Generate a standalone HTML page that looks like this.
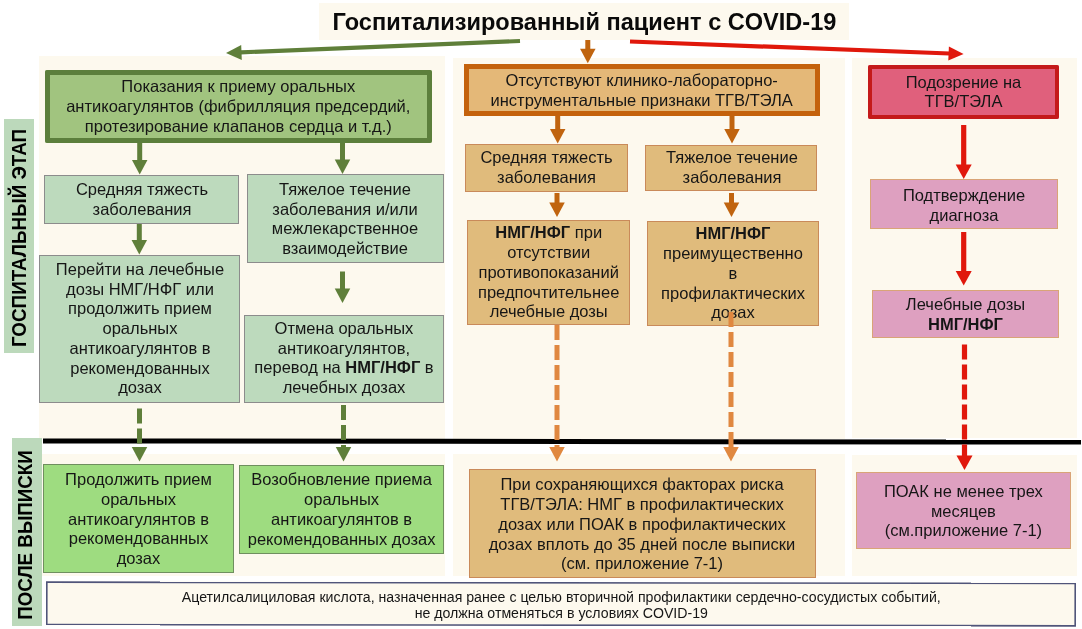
<!DOCTYPE html>
<html><head><meta charset="utf-8"><title>COVID-19</title>
<style>
html,body{margin:0;padding:0;background:#fff;overflow:hidden;}
body{width:1082px;height:629px;position:relative;overflow:hidden;font-family:"Liberation Sans", sans-serif;}
#w{position:absolute;left:0;top:0;width:1082px;height:629px;filter:blur(0.5px);}
.r{position:absolute;box-sizing:border-box;}
.t{position:absolute;text-align:center;white-space:nowrap;}
.v{position:absolute;width:0;height:0;font-weight:bold;color:#000;}
.v span{position:absolute;left:0;top:0;white-space:nowrap;transform:translate(-50%,-50%) rotate(-90deg);display:block;line-height:1;}
svg{position:absolute;left:0;top:0;}
</style></head><body><div id="w">
<div class="r" style="left:319px;top:2.5px;width:530px;height:37.5px;background:#fdf9ee;"></div>
<div class="r" style="left:39.2px;top:56px;width:406.1px;height:382.6px;background:#fdf9ee;"></div>
<div class="r" style="left:42px;top:453.6px;width:403px;height:122.19999999999993px;background:#fdf9ee;"></div>
<div class="r" style="left:453px;top:58px;width:392px;height:380.6px;background:#fdf9ee;"></div>
<div class="r" style="left:452.6px;top:454.2px;width:392.4px;height:122.09999999999997px;background:#fdf9ee;"></div>
<div class="r" style="left:851.5px;top:58px;width:225.5px;height:379.5px;background:#fdf9ee;"></div>
<div class="r" style="left:851.5px;top:454.8px;width:225.70000000000005px;height:120.80000000000001px;background:#fdf9ee;"></div>
<div class="r" style="left:4.4px;top:118.7px;width:29.300000000000004px;height:234.3px;background:#bcd9bb;"></div>
<div class="r" style="left:11.7px;top:437.8px;width:30.2px;height:187.8px;background:#bcd9bb;"></div>
<div class="r" style="left:45.2px;top:69.8px;width:387.0px;height:73.00000000000001px;background:#a1c47f;box-shadow:inset 0 0 0 5px #5c7f3c;border-radius:2px;"></div>
<div class="r" style="left:44.4px;top:175px;width:194.6px;height:48.599999999999994px;background:#bddabd;box-shadow:inset 0 0 0 1px #8c8c8c;"></div>
<div class="r" style="left:247px;top:174px;width:197px;height:89px;background:#bddabd;box-shadow:inset 0 0 0 1px #8c8c8c;"></div>
<div class="r" style="left:39px;top:255.2px;width:200.8px;height:147.60000000000002px;background:#bddabd;box-shadow:inset 0 0 0 1px #8c8c8c;"></div>
<div class="r" style="left:244px;top:315.2px;width:200px;height:87.80000000000001px;background:#bddabd;box-shadow:inset 0 0 0 1px #8c8c8c;"></div>
<div class="r" style="left:43px;top:464.2px;width:190.8px;height:108.50000000000006px;background:#9edc80;box-shadow:inset 0 0 0 1px #6f8f5f;"></div>
<div class="r" style="left:238.8px;top:465px;width:205.2px;height:89px;background:#9edc80;box-shadow:inset 0 0 0 1px #6f8f5f;"></div>
<div class="r" style="left:464px;top:64px;width:356px;height:52px;background:#e4b878;box-shadow:inset 0 0 0 5px #c4620c;"></div>
<div class="r" style="left:465px;top:144px;width:163.20000000000005px;height:47.599999999999994px;background:#e0bb7c;box-shadow:inset 0 0 0 1px #c98a5a;"></div>
<div class="r" style="left:645px;top:145px;width:172.20000000000005px;height:45.5px;background:#e0bb7c;box-shadow:inset 0 0 0 1px #c98a5a;"></div>
<div class="r" style="left:467px;top:219.6px;width:163px;height:105.4px;background:#e0bb7c;box-shadow:inset 0 0 0 1px #c98a5a;"></div>
<div class="r" style="left:646.6px;top:220.8px;width:172.19999999999993px;height:104.89999999999998px;background:#e0bb7c;box-shadow:inset 0 0 0 1px #c98a5a;"></div>
<div class="r" style="left:469px;top:469px;width:347px;height:109px;background:#e0bb7c;box-shadow:inset 0 0 0 1px #c98a5a;"></div>
<div class="r" style="left:868px;top:65.4px;width:191.20000000000005px;height:53.599999999999994px;background:#e0607c;box-shadow:inset 0 0 0 4px #c41a1a;border-radius:2px;"></div>
<div class="r" style="left:870px;top:178.8px;width:187.79999999999995px;height:49.79999999999998px;background:#dea0c0;box-shadow:inset 0 0 0 1px #d9a477;"></div>
<div class="r" style="left:872px;top:290px;width:187px;height:48px;background:#dea0c0;box-shadow:inset 0 0 0 1px #d9a477;"></div>
<div class="r" style="left:855.6px;top:472.2px;width:215.39999999999998px;height:77.19999999999999px;background:#dea0c0;box-shadow:inset 0 0 0 1px #d9a477;"></div>
<div class="r" style="left:46px;top:582.2px;width:1029.8px;height:43.799999999999955px;background:#fdf9ee;box-shadow:inset 0 0 0 1.6px #50557a;transform:rotate(0.07deg);"></div>
<div class="r" style="left:42.6px;top:438.9px;width:1038.4px;height:5.400000000000034px;background:#000;transform:rotate(0.068deg);"></div>
<div class="t" style="left:234.5px;top:9.34px;width:700px;font-size:23.55px;line-height:26px;color:#0a0a0a;font-weight:bold;letter-spacing:0px;word-spacing:0px">Госпитализированный пациент с COVID-19</div>
<div class="t" style="left:28.30000000000001px;top:77.31px;width:420px;font-size:16.5px;line-height:19.75px;color:#161616;font-weight:normal;letter-spacing:0px;word-spacing:0px">Показания к приему оральных<br>антикоагулянтов (фибрилляция предсердий,<br>протезирование клапанов сердца и т.д.)</div>
<div class="t" style="left:-68.0px;top:180.41px;width:420px;font-size:16.5px;line-height:19.75px;color:#161616;font-weight:normal;letter-spacing:0px;word-spacing:0px">Средняя тяжесть<br>заболевания</div>
<div class="t" style="left:135.0px;top:179.91px;width:420px;font-size:16.5px;line-height:19.75px;color:#161616;font-weight:normal;letter-spacing:0px;word-spacing:0px">Тяжелое течение<br>заболевания и/или<br>межлекарственное<br>взаимодействие</div>
<div class="t" style="left:-70.0px;top:259.91px;width:420px;font-size:16.5px;line-height:19.75px;color:#161616;font-weight:normal;letter-spacing:0px;word-spacing:0px">Перейти на лечебные<br>дозы НМГ/НФГ или<br>продолжить прием<br>оральных<br>антикоагулянтов в<br>рекомендованных<br>дозах</div>
<div class="t" style="left:134.0px;top:318.91px;width:420px;font-size:16.5px;line-height:19.75px;color:#161616;font-weight:normal;letter-spacing:0px;word-spacing:0px">Отмена оральных<br>антикоагулянтов,<br>перевод на <b>НМГ/НФГ</b> в<br>лечебных дозах</div>
<div class="t" style="left:-71.5px;top:470.21px;width:420px;font-size:16.5px;line-height:19.75px;color:#161616;font-weight:normal;letter-spacing:0px;word-spacing:0px">Продолжить прием<br>оральных<br>антикоагулянтов в<br>рекомендованных<br>дозах</div>
<div class="t" style="left:131.60000000000002px;top:470.41px;width:420px;font-size:16.5px;line-height:19.75px;color:#161616;font-weight:normal;letter-spacing:0px;word-spacing:0px">Возобновление приема<br>оральных<br>антикоагулянтов в<br>рекомендованных дозах</div>
<div class="t" style="left:431.70000000000005px;top:70.28px;width:420px;font-size:16.5px;line-height:20px;color:#161616;font-weight:normal;letter-spacing:0px;word-spacing:0px">Отсутствуют клинико-лабораторно-<br>инструментальные признаки ТГВ/ТЭЛА</div>
<div class="t" style="left:336.5px;top:147.91px;width:420px;font-size:16.5px;line-height:19.75px;color:#161616;font-weight:normal;letter-spacing:0px;word-spacing:0px">Средняя тяжесть<br>заболевания</div>
<div class="t" style="left:522.0px;top:147.91px;width:420px;font-size:16.5px;line-height:19.75px;color:#161616;font-weight:normal;letter-spacing:0px;word-spacing:0px">Тяжелое течение<br>заболевания</div>
<div class="t" style="left:338.70000000000005px;top:223.41px;width:420px;font-size:16.5px;line-height:19.75px;color:#161616;font-weight:normal;letter-spacing:0px;word-spacing:0px"><b>НМГ/НФГ</b> при<br>отсутствии<br>противопоказаний<br>предпочтительнее<br>лечебные дозы</div>
<div class="t" style="left:523.0px;top:224.41px;width:420px;font-size:16.5px;line-height:19.75px;color:#161616;font-weight:normal;letter-spacing:0px;word-spacing:0px"><b>НМГ/НФГ</b><br>преимущественно<br>в<br>профилактических<br>дозах</div>
<div class="t" style="left:432.0px;top:475.41px;width:420px;font-size:16.5px;line-height:19.75px;color:#161616;font-weight:normal;letter-spacing:0px;word-spacing:0px">При сохраняющихся факторах риска<br>ТГВ/ТЭЛА: НМГ в профилактических<br>дозах или ПОАК в профилактических<br>дозах вплоть до 35 дней после выписки<br>(см. приложение 7-1)</div>
<div class="t" style="left:853.5px;top:72.73px;width:220px;font-size:16.5px;line-height:19.5px;color:#161616;font-weight:normal;letter-spacing:0px;word-spacing:0px">Подозрение на<br>ТГВ/ТЭЛА</div>
<div class="t" style="left:854.0px;top:184.98px;width:220px;font-size:16.5px;line-height:20px;color:#161616;font-weight:normal;letter-spacing:0px;word-spacing:0px">Подтверждение<br>диагноза</div>
<div class="t" style="left:855.5px;top:295.33px;width:220px;font-size:16.5px;line-height:19.3px;color:#161616;font-weight:normal;letter-spacing:0px;word-spacing:0px">Лечебные дозы<br><b>НМГ/НФГ</b></div>
<div class="t" style="left:853.4px;top:481.93px;width:220px;font-size:16.5px;line-height:19.7px;color:#161616;font-weight:normal;letter-spacing:0px;word-spacing:0px">ПОАК не менее трех<br>месяцев<br>(см.приложение 7-1)</div>
<div class="t" style="left:61.299999999999955px;top:588.75px;width:1000px;font-size:14.15px;line-height:16.5px;color:#161616;font-weight:normal;letter-spacing:0px;word-spacing:0px">Ацетилсалициловая кислота, назначенная ранее с целью вторичной профилактики сердечно-сосудистых событий,<br>не должна отменяться в условиях COVID-19</div>
<div class="v" style="left:19.5px;top:237.6px;font-size:18.85px"><span style="transform:translate(-50%,-50%) rotate(-90deg) scale(1,1.06)">ГОСПИТАЛЬНЫЙ ЭТАП</span></div>
<div class="v" style="left:26.45px;top:535.0px;font-size:18.8px"><span style="transform:translate(-50%,-50%) rotate(-90deg) scale(1,1.08)">ПОСЛЕ ВЫПИСКИ</span></div>
<svg width="1082" height="629" viewBox="0 0 1082 629"><line x1="520" y1="41" x2="240.5" y2="52.4" stroke="#5f7f3a" stroke-width="4.2"/><polygon points="241.2,44.9 241.8,59.9 226,53" fill="#5f7f3a"/><line x1="630" y1="41.5" x2="949.6" y2="53.5" stroke="#e0180c" stroke-width="4.2"/><polygon points="948.3,60.4 948.9,46.4 963.6,54" fill="#e0180c"/><line x1="587.8" y1="40" x2="587.8" y2="49.7" stroke="#c0640f" stroke-width="5"/><polygon points="580.05,48.7 595.55,48.7 587.8,63.2" fill="#c0640f"/><line x1="139.7" y1="143" x2="139.7" y2="161.0" stroke="#5f7f3a" stroke-width="5"/><polygon points="131.95,160.0 147.45,160.0 139.7,174.5" fill="#5f7f3a"/><line x1="342.5" y1="143" x2="342.5" y2="160.5" stroke="#5f7f3a" stroke-width="5"/><polygon points="334.75,159.5 350.25,159.5 342.5,174" fill="#5f7f3a"/><line x1="139.3" y1="224" x2="139.3" y2="241.0" stroke="#5f7f3a" stroke-width="5"/><polygon points="131.55,240.0 147.05,240.0 139.3,254.5" fill="#5f7f3a"/><line x1="342.5" y1="271.5" x2="342.5" y2="289.5" stroke="#5f7f3a" stroke-width="5"/><polygon points="334.75,288.5 350.25,288.5 342.5,303" fill="#5f7f3a"/><line x1="139.5" y1="408.5" x2="139.5" y2="448.0" stroke="#5f7f3a" stroke-width="5" stroke-dasharray="15 5"/><polygon points="131.75,447.0 147.25,447.0 139.5,461.5" fill="#5f7f3a"/><line x1="343.5" y1="405" x2="343.5" y2="448.0" stroke="#5f7f3a" stroke-width="5" stroke-dasharray="15 5"/><polygon points="335.75,447.0 351.25,447.0 343.5,461.5" fill="#5f7f3a"/><line x1="557.7" y1="116" x2="557.7" y2="130.0" stroke="#c0640f" stroke-width="5"/><polygon points="549.95,129.0 565.45,129.0 557.7,143.5" fill="#c0640f"/><line x1="732" y1="116" x2="732" y2="130.0" stroke="#c0640f" stroke-width="5"/><polygon points="724.25,129.0 739.75,129.0 732,143.5" fill="#c0640f"/><line x1="557" y1="193" x2="557" y2="203.5" stroke="#c0640f" stroke-width="5"/><polygon points="549.25,202.5 564.75,202.5 557,217" fill="#c0640f"/><line x1="731.5" y1="193" x2="731.5" y2="203.5" stroke="#c0640f" stroke-width="5"/><polygon points="723.75,202.5 739.25,202.5 731.5,217" fill="#c0640f"/><line x1="557" y1="325" x2="557" y2="448.0" stroke="#e08840" stroke-width="5" stroke-dasharray="15 5"/><polygon points="549.25,447.0 564.75,447.0 557,461.5" fill="#e08840"/><line x1="731" y1="312" x2="731" y2="448.0" stroke="#e08840" stroke-width="5" stroke-dasharray="15 5"/><polygon points="723.25,447.0 738.75,447.0 731,461.5" fill="#e08840"/><line x1="963.7" y1="125" x2="963.7" y2="165.5" stroke="#e0180c" stroke-width="5.2"/><polygon points="955.7,164.5 971.7,164.5 963.7,179" fill="#e0180c"/><line x1="963.7" y1="232" x2="963.7" y2="272.0" stroke="#e0180c" stroke-width="5.2"/><polygon points="955.7,271.0 971.7,271.0 963.7,285.5" fill="#e0180c"/><line x1="964.5" y1="344.5" x2="964.5" y2="456.5" stroke="#e0180c" stroke-width="5.2" stroke-dasharray="15 5"/><polygon points="956.5,455.5 972.5,455.5 964.5,470" fill="#e0180c"/></svg>
</div></body></html>
